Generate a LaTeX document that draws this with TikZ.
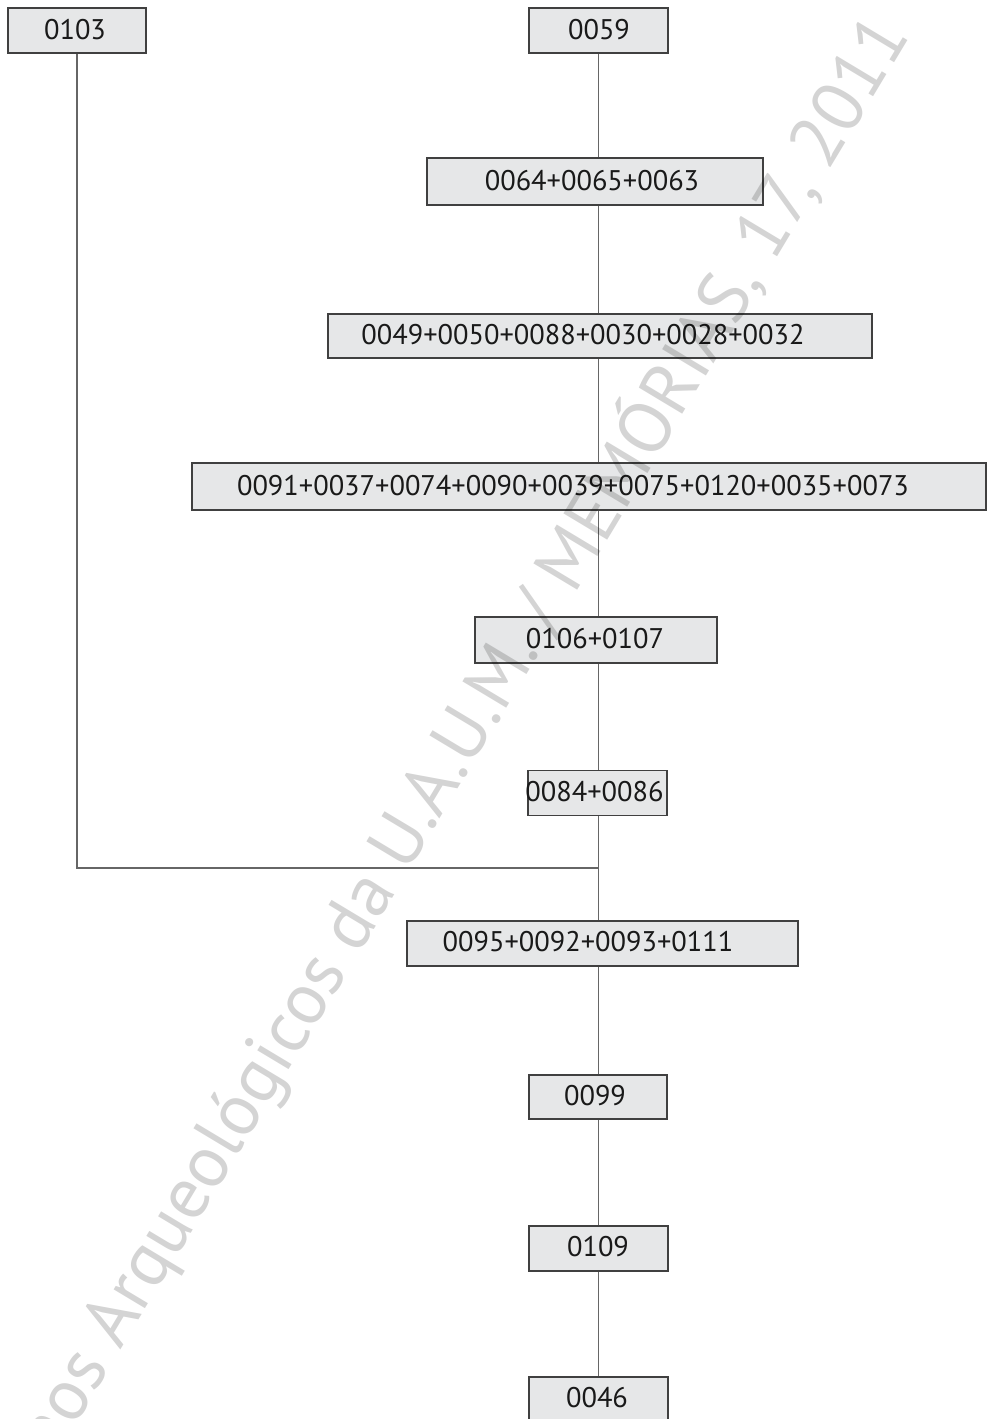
\documentclass[tikz,border=0pt]{standalone}
\usepackage{fontspec}
\setmainfont{PT Sans}
\usetikzlibrary{positioning}

\definecolor{boxgray}{HTML}{E6E7E8}
\tikzset{
	unit/.style={draw=black!75, fill=boxgray, line width=0.7pt, inner sep=0pt},
	num/.style={font=\fontsize{14.2}{16}\selectfont, text=black!90, inner sep=0pt},
	link/.style={draw=black!60, line width=0.75pt},
	stamp/.style={font=\fontsize{36.5}{40}\selectfont, text=black, opacity=0.17, inner sep=0pt},
}

\begin{document}
\begin{tikzpicture}[x=0.5pt, y=-0.5pt]
	\useasboundingbox (0,0) rectangle (987,1419);
	% boxes
	\node[unit, minimum width=69pt, minimum height=22.5pt] (u0) at (77,30.5) {};
	\node[unit, minimum width=69.5pt, minimum height=22.5pt] (u1) at (598.5,30.5) {};
	\node[unit, minimum width=168pt, minimum height=23.5pt] (u2) at (595,181.5) {};
	\node[unit, minimum width=272pt, minimum height=22pt] (u3) at (600,336) {};
	\node[unit, minimum width=397pt, minimum height=23.5pt] (u4) at (589,486.5) {};
	\node[unit, minimum width=121pt, minimum height=23pt] (u5) at (596,640) {};
	\node[unit, minimum width=69.5pt, minimum height=22.5pt] (u6) at (597.5,793) {};
	\node[unit, minimum width=195.5pt, minimum height=22.5pt] (u7) at (602.5,943.5) {};
	\node[unit, minimum width=69pt, minimum height=22pt] (u8) at (598,1097) {};
	\node[unit, minimum width=69.5pt, minimum height=22.5pt] (u9) at (598.5,1248.5) {};
	\node[unit, minimum width=69.5pt, minimum height=22.5pt] (u10) at (598.5,1399.5) {};
	% labels
	\node[num] (t0) at (75,30) {0103};
	\node[num] (t1) at (599,30) {0059};
	\node[num] (t2) at (592,181) {0064+0065+0063};
	\node[num] (t3) at (583,335) {0049+0050+0088+0030+0028+0032};
	\node[num] (t4) at (573,486) {0091+0037+0074+0090+0039+0075+0120+0035+0073};
	\node[num] (t5) at (595,639) {0106+0107};
	\node[num] (t6) at (594.5,792) {0084+0086};
	\node[num] (t7) at (588,942) {0095+0092+0093+0111};
	\node[num] (t8) at (595,1096) {0099};
	\node[num] (t9) at (598,1247) {0109};
	\node[num] (t10) at (597,1398) {0046};
	% links
	\coordinate (top) at (u1.south);
	\draw[link] (top) -- (top |- u2.north);
	\draw[link] (top |- u2.south) -- (top |- u3.north);
	\draw[link] (top |- u3.south) -- (top |- u4.north);
	\draw[link] (top |- u4.south) -- (top |- u5.north);
	\draw[link] (top |- u5.south) -- (top |- u6.north);
	\draw[link] (top |- u6.south) -- (top |- u7.north);
	\draw[link] (top |- u7.south) -- (top |- u8.north);
	\draw[link] (top |- u8.south) -- (top |- u9.north);
	\draw[link] (top |- u9.south) -- (top |- u10.north);
	\coordinate (join) at (598,868);
	\draw[link] (u0.south) |- (join);
	% watermark
	\node[stamp, rotate=59, anchor=base east] (wm) at (911,35) {Cadernos Arqueológicos da U.A.U.M. / MEMÓRIAS, 17, 2011};
\end{tikzpicture}
\end{document}
